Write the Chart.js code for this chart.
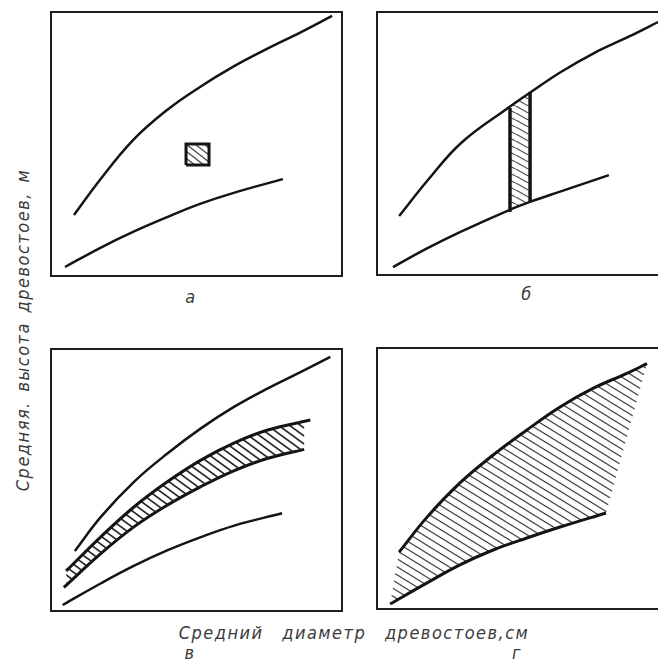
<!DOCTYPE html>
<html>
<head>
<meta charset="utf-8">
<script src="https://cdn.jsdelivr.net/npm/chart.js@4.4.1/dist/chart.umd.min.js"></script>
<style>
html, body { margin: 0; padding: 0; background: #fff; width: 658px; height: 661px; overflow: hidden; }
.panel { position: absolute; }
.lbl { position: absolute; font: italic 18px "DejaVu Sans Condensed", "DejaVu Sans", sans-serif; color: #3a3a3a; letter-spacing: 1.5px; transform: translate(-50%, -50%); white-space: nowrap; }
</style>
</head>
<body>
<div class="panel" style="left:47px;top:8px;width:299px;height:272px"><canvas id="chartA"></canvas></div>
<div class="panel" style="left:373px;top:8px;width:299px;height:271px"><canvas id="chartB"></canvas></div>
<div class="panel" style="left:47px;top:345px;width:299px;height:270px"><canvas id="chartC"></canvas></div>
<div class="panel" style="left:373px;top:344px;width:299px;height:269px"><canvas id="chartD"></canvas></div>

<div class="lbl" style="left:22px;top:330px;transform:translate(-50%,-50%) rotate(-90deg);word-spacing:3px">Средняя. высота древостоев, м</div>
<div class="lbl" style="left:354px;top:632px;word-spacing:12px">Средний диаметр древостоев,см</div>
<div class="lbl" style="left:191px;top:296px">а</div>
<div class="lbl" style="left:527px;top:293px">б</div>
<div class="lbl" style="left:190px;top:652px">в</div>
<div class="lbl" style="left:517px;top:652px">г</div>

<script>
// curves, [diameter, height] in panel units 0..10
const aUpper = [[0.79,2.31],[1.68,3.64],[2.82,5.15],[3.99,6.29],[5.12,7.16],[6.25,7.92],[7.42,8.6],[8.56,9.22],[9.66,9.85]];
const aLower = [[0.48,0.34],[1.68,1.06],[2.82,1.67],[3.99,2.23],[5.12,2.73],[6.25,3.14],[7.97,3.67]];
const aBoxX = [4.64, 5.43];
const aBoxY = [4.2, 5.0];

const bUpper = [[0.76,2.24],[1.75,3.61],[2.89,5.02],[4.5,6.35],[5.29,6.96],[6.32,7.72],[7.46,8.44],[8.63,9.05],[9.66,9.62]];
const bLower = [[0.55,0.3],[1.72,1.01],[2.85,1.63],[4.54,2.47],[5.26,2.78],[6.29,3.17],[7.97,3.8]];
const bStripX = [4.57, 5.26];
const bStripTop = [6.35, 6.96];
const bStripBottom = [2.48, 2.78];

const cCurve1 = [[0.82,2.29],[1.72,3.6],[2.86,4.94],[4.01,6.02],[5.15,6.97],[6.3,7.8],[7.45,8.5],[8.59,9.13],[9.6,9.7]];
const cCurve2 = [[0.52,1.53],[1.72,2.84],[2.86,3.98],[4.01,4.94],[5.15,5.76],[6.3,6.42],[7.45,6.91],[8.91,7.29]];
const cCurve3 = [[0.44,0.9],[1.72,2.2],[2.86,3.22],[4.01,4.05],[5.15,4.75],[6.3,5.36],[7.45,5.83],[8.7,6.17]];
const cCurve4 = [[0.4,0.23],[1.72,1.06],[2.86,1.73],[4.01,2.32],[5.15,2.82],[6.3,3.26],[7.94,3.73]];

const dUpper = [[0.76,2.18],[1.72,3.52],[2.85,4.83],[3.99,5.9],[5.15,6.86],[6.29,7.74],[7.42,8.45],[8.59,9.03],[9.28,9.4]];
const dLower = [[0.45,0.19],[1.72,1.0],[2.85,1.69],[3.99,2.26],[5.15,2.72],[6.29,3.14],[7.87,3.68]];

const INK = '#141414';

function pts(arr) { return arr.map(p => ({x: p[0], y: p[1]})); }

// diagonal hatch tile: lines falling to the right, w across / h down
function hatch(w, h, lw, color) {
  const c = document.createElement('canvas');
  c.width = w; c.height = h;
  const g = c.getContext('2d');
  g.strokeStyle = color;
  g.lineWidth = lw;
  for (const off of [-h, 0, h]) {
    g.beginPath();
    g.moveTo(-1, off - h / w);
    g.lineTo(w + 1, off + h + h / w);
    g.stroke();
  }
  return g.createPattern(c, 'repeat');
}

function curve(arr, width) {
  return { data: pts(arr), borderColor: INK, borderWidth: width || 2.5, fill: false, tension: 0.4 };
}

function shape(arr, pattern) {
  return { data: pts(arr), borderWidth: 0, borderColor: 'rgba(0,0,0,0)', backgroundColor: pattern, fill: 'shape', tension: 0 };
}

function axis(pos) {
  return {
    type: 'linear', min: 0, max: 10, position: pos,
    ticks: { display: false },
    grid: { display: false, drawTicks: false },
    border: { display: true, color: '#1e1e1e', width: 2 }
  };
}

function options() {
  return {
    responsive: true,
    maintainAspectRatio: false,
    animation: false,
    layout: { padding: 4 },
    plugins: { legend: { display: false }, tooltip: { enabled: false } },
    elements: { point: { radius: 0 } },
    scales: { x: axis('bottom'), y: axis('left'), x2: axis('top'), y2: axis('right') }
  };
}

// а
const boxPoly = [[aBoxX[0],aBoxY[0]],[aBoxX[0],aBoxY[1]],[aBoxX[1],aBoxY[1]],[aBoxX[1],aBoxY[0]],[aBoxX[0],aBoxY[0]]];
new Chart(document.getElementById('chartA'), {
    type: 'line',
    data: { datasets: [
        curve(aUpper), curve(aLower),
        Object.assign(shape(boxPoly, hatch(9, 7, 1.3, '#444')), { borderWidth: 3, borderColor: INK })
    ] },
    options: options()
});

// б
const stripPoly = [[bStripX[0],bStripBottom[0]],[bStripX[0],bStripTop[0]],[bStripX[1],bStripTop[1]],[bStripX[1],bStripBottom[1]]];
new Chart(document.getElementById('chartB'), {
    type: 'line',
    data: { datasets: [
        curve(bUpper), curve(bLower),
        { data: pts([[bStripX[0],bStripBottom[0] - 0.08],[bStripX[0],bStripTop[0]]]), borderColor: INK, borderWidth: 3.5, fill: false },
        { data: pts([[bStripX[1],bStripBottom[1]],[bStripX[1],bStripTop[1]]]), borderColor: INK, borderWidth: 3.5, fill: false },
        shape(stripPoly, hatch(13, 7.5, 1.1, '#555'))
    ] },
    options: options()
});

// в: band between curves 2 and 3 is filled through the filler plugin
new Chart(document.getElementById('chartC'), {
    type: 'line',
    data: { datasets: [
        curve(cCurve1),
        Object.assign(curve(cCurve2, 3), { fill: '+1', backgroundColor: hatch(11, 8, 1.6, '#222') }),
        curve(cCurve3, 3),
        curve(cCurve4)
    ] },
    options: options()
});

// г
new Chart(document.getElementById('chartD'), {
    type: 'line',
    data: { datasets: [
        curve(dUpper, 3), curve(dLower, 3),
        shape(dUpper.concat(dLower.slice().reverse()), hatch(13, 8, 1.2, '#444'))
    ] },
    options: options()
});
</script>
</body>
</html>
